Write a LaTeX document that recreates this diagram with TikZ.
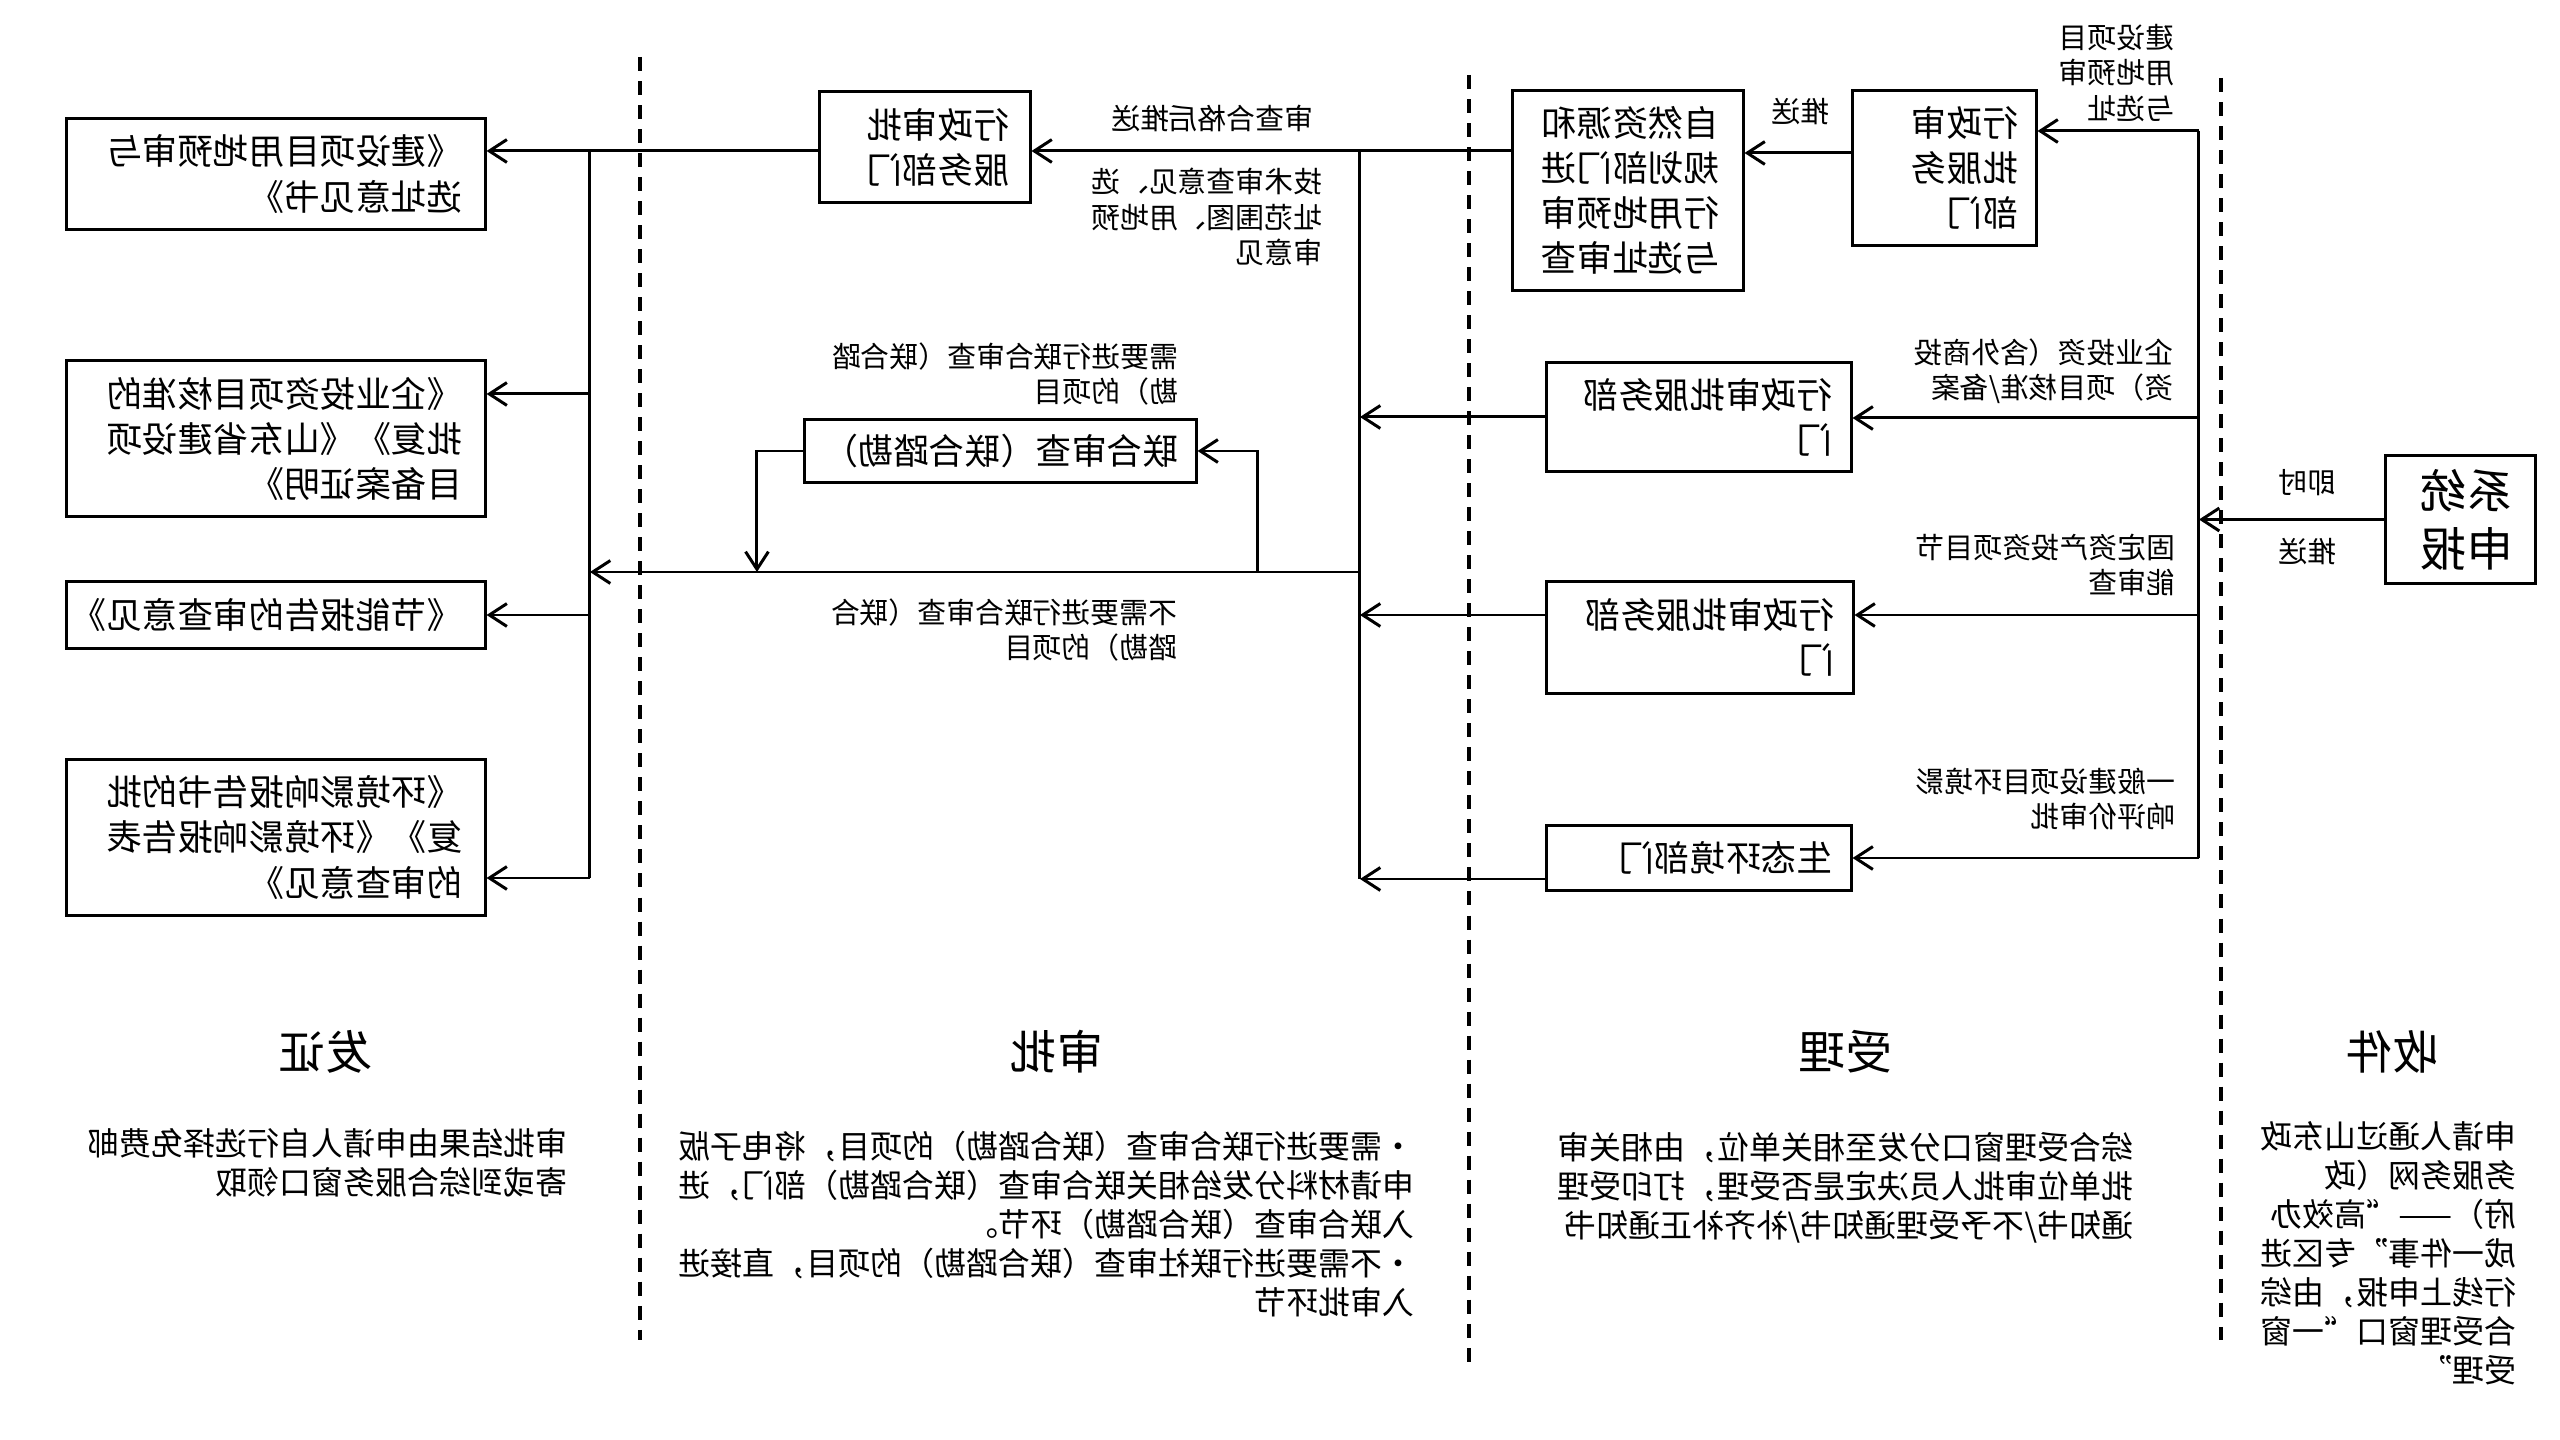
\documentclass[tikz,border=0pt]{standalone}
\usepackage{fontspec}
\setmainfont{Noto Sans CJK SC}
\usetikzlibrary{arrows.meta}
\newcommand\bxf{\fontsize{10.1pt}{12.8pt}\selectfont}
\newcommand\lbf{\fontsize{8.2pt}{10pt}\selectfont}
\newcommand\dsf{\fontsize{9.1pt}{11.1pt}\selectfont}
\newcommand\hdf{\fontsize{13.2pt}{16pt}\selectfont}
\newcommand\kf{\fontsize{13.2pt}{16.5pt}\selectfont}
\begin{document}
\begin{tikzpicture}[xscale=-1, x=0.01cm, y=-0.01cm,
  every node/.append style={transform shape},
  bx/.style={draw, line width=0.85pt, inner sep=0pt, align=left, font=\bxf},
  lab/.style={inner sep=0pt, align=left, anchor=west, font=\lbf},
  dsc/.style={inner sep=0pt, align=left, anchor=west, font=\dsf},
  hdr/.style={inner sep=0pt, font=\hdf},
  ln/.style={line width=0.85pt},
  arr/.style={ln, -{Straight Barb[length=5pt,width=6.5pt]}},
  sep/.style={line width=0.9pt, dash pattern=on 0.14cm off 0.1cm}]
\useasboundingbox (0,0) rectangle (2560,1440);

% lane separators
\draw[sep] (1920,57) -- (1920,1340);
\draw[sep] (1091,75) -- (1091,1362);
\draw[sep] (339,78) -- (339,1340);

% boxes
\node[bx, font=\kf, minimum width=1.49cm, minimum height=1.27cm, text width=1.05cm] (K) at (99.5,519.5) {系统\\申报};
\node[bx, minimum width=1.83cm, minimum height=1.54cm, text width=1.47cm] (G) at (615.5,168) {行政审\\批服务\\部门};
\node[bx, minimum width=2.30cm, minimum height=1.99cm, text width=1.82cm] (F) at (932,190.5) {自然资源和\\规划部门进\\行用地预审\\与选址审查};
\node[bx, minimum width=3.04cm, minimum height=1.08cm, text width=2.66cm] (H) at (861,417) {行政审批服务部\\门};
\node[bx, minimum width=3.06cm, minimum height=1.11cm, text width=2.68cm] (I) at (860,637.5) {行政审批服务部\\门};
\node[bx, minimum width=3.04cm, minimum height=0.64cm, text width=2.66cm] (J) at (861,858) {生态环境部门};
\node[bx, minimum width=2.10cm, minimum height=1.10cm, text width=1.68cm] (E) at (1635,147) {行政审批\\服务部门};
\node[bx, minimum width=3.91cm, minimum height=0.63cm, text width=3.55cm] (L) at (1559.5,451) {联合审查（联合踏勘）};
\node[bx, minimum width=4.18cm, minimum height=1.10cm, text width=3.72cm] (A) at (2284,174) {《建设项目用地预审与\\选址意见书》};
\node[bx, minimum width=4.18cm, minimum height=1.55cm, text width=3.72cm] (B) at (2284,438.5) {《企业投资项目核准的\\批复》《山东省建设项\\目备案证明》};
\node[bx, minimum width=4.18cm, minimum height=0.66cm, text width=3.72cm] (C) at (2284,615) {《节能报告的审查意见》};
\node[bx, minimum width=4.18cm, minimum height=1.55cm, text width=3.72cm] (D) at (2284,837.5) {《环境影响报告书的批\\复》《环境影响报告表\\的审查意见》};

% right bus (收件 -> 受理)
\coordinate (rbT) at (361,131);
\coordinate (rbH) at (361,418);
\coordinate (rbI) at (361,615);
\coordinate (rbB) at (361,858);
\draw[ln] (rbT) -- (rbB);
\draw[arr] (K.east) -- (K.east -| rbT);
\draw[arr] (rbT) -- (rbT -| G.west);
\draw[arr] (rbH) -- (rbH -| H.west);
\draw[arr] (rbI) -- (rbI -| I.west);
\draw[arr] (rbB) -- (rbB -| J.west);
\coordinate (gf) at (0,153);
\draw[arr] (G.east |- gf) -- (F.west |- gf);

% middle bus (受理 -> 审批)
\coordinate (mbT) at (1200,151);
\coordinate (mbB) at (1200,879);
\coordinate (lbT) at (1970,151);
\coordinate (lbB) at (1970,878);
\draw[arr] (F.east |- mbT) -- (E.west |- mbT);
\draw[arr] (E.east |- lbT) -- (A.west |- lbT);
\draw[ln] (mbT) -- (mbB);
\draw[arr] (H.east) -- (H.east -| mbT);
\draw[arr] (I.east |- rbI) -- (rbI -| mbT);
\draw[arr] (J.east |- mbB) -- (mbB);

% joint review branch
\coordinate (mj) at (1200,572);
\coordinate (br1) at (1302,572);
\coordinate (br2) at (1803,572);
\draw[arr] (mj) -- (mj -| lbT);
\draw[arr] (br1) -- (br1 |- L.west) -- (L.west);
\draw[arr] (L.east) -- (L.east -| br2) -- (br2);

% left bus (审批 -> 发证)
\coordinate (lb2) at (1970,394);
\coordinate (lb3) at (1970,615);
\draw[ln] (lbT) -- (lbB);
\draw[arr] (lb2) -- (lb2 -| B.west);
\draw[arr] (lb3) -- (lb3 -| C.west);
\draw[arr] (lbB) -- (lbB -| D.west);

% connector labels
\node[lab] (l1) at (385,73) {建设项目\\用地预审\\与选址};
\node[lab] (l2) at (386,371) {企业投资（含外商投\\资）项目核准/备案};
\node[lab] (l3) at (384,565) {固定资产投资项目节\\能审查};
\node[lab] (l4) at (384,799) {一般建设项目环境影\\响评价审批};
\node[lab, anchor=center] (l5) at (252,483) {即时};
\node[lab, anchor=center] (l6) at (252,552) {推送};
\node[lab, anchor=center] (l7) at (759,112) {推送};
\node[lab] (l8) at (1246,118) {审查合格后推送};
\node[lab] (l9) at (1237,217) {技术审查意见、选\\址范围图、用地预\\审意见};
\node[lab] (l10) at (1381,374) {需要进行联合审查（联合踏\\勘）的项目};
\node[lab] (l11) at (1382,630) {不需要进行联合审查（联合\\踏勘）的项目};

% lane headers
\node[hdr] (h1) at (167,1052) {收件};
\node[hdr] (h2) at (714,1052) {受理};
\node[hdr] (h3) at (1503,1052) {审批};
\node[hdr] (h4) at (2234,1052) {发证};

% lane descriptions
\node[dsc] (d1) at (43,1253) {申请人通过山东政\\务服务网（政\\府）——“高效办\\成一件事”专区进\\行线上申报，由综\\合受理窗口“一窗\\受理”};
\node[dsc] (d2) at (426,1188) {综合受理窗口分发至相关单位，由相关审\\批单位审批人员决定是否受理，打印受理\\通知书/不予受理通知书/补齐补正通知书};
\node[dsc] (d3) at (1145,1224) {\makebox[1em][l]{•}需要进行联合审查（联合踏勘）的项目，将电子版\\申请材料分发给相关联合审查（联合踏勘）部门，进\\入联合审查（联合踏勘）环节。\\\makebox[1em][l]{•}不需要进行联社审查（联合踏勘）的项目，直接进\\入审批环节};
\node[dsc] (d4) at (1992,1163) {审批结果由申请人自行选择免费邮\\寄或到综合服务窗口领取};
\end{tikzpicture}
\end{document}
